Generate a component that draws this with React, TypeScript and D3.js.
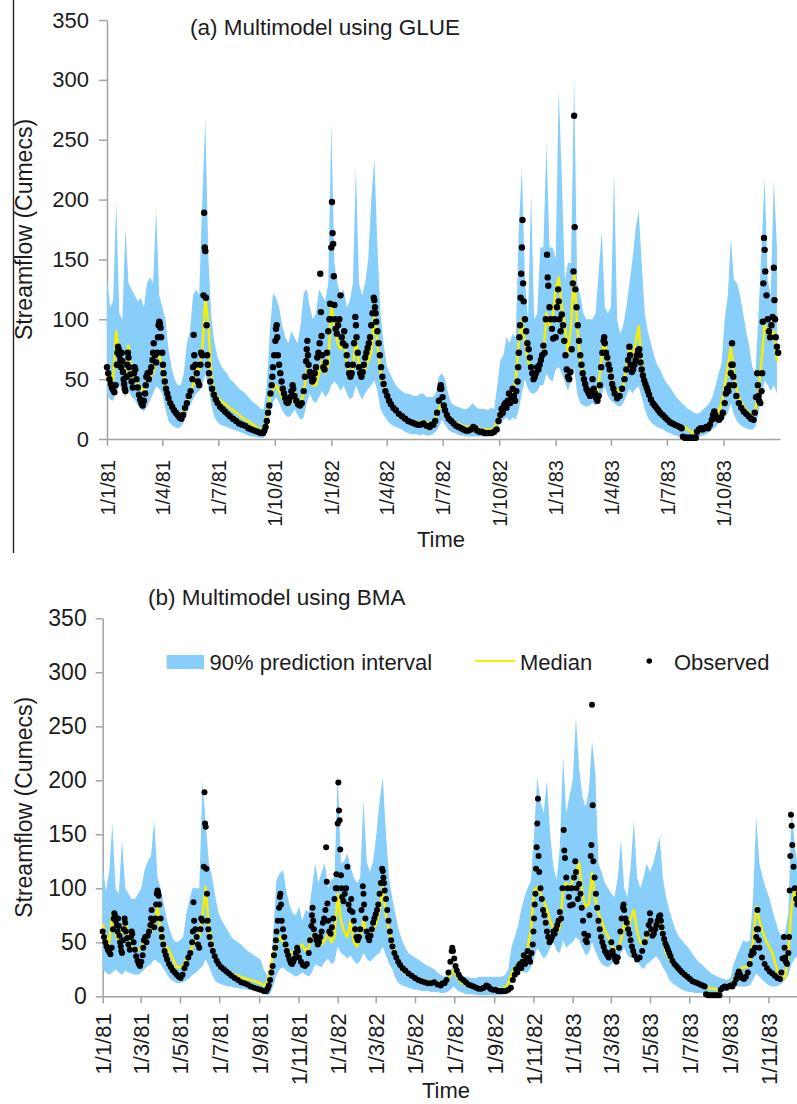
import React, { useRef, useEffect } from 'react';
import * as d3 from 'd3';

// ---- data ----
const START = new Date(Date.UTC(1981, 0, 1));
const END = new Date(Date.UTC(1984, 0, 1));

// bands and medians are sampled every 5 days starting 1/1/81
const STEP = 5;

// (a) GLUE
const upperA = [
  135, 110, 115, 198, 105, 100, 176, 130, 125, 120,
  115, 118, 110, 130, 135, 130, 192, 120, 110, 100,
  75, 60, 50, 45, 45, 55, 80, 90, 120, 125,
  120, 200, 268, 150, 100, 80, 68, 62, 58, 55,
  50, 48, 45, 42, 40, 38, 35, 32, 30, 28,
  25, 25, 45, 90, 122, 118, 110, 95, 85, 80,
  90, 85, 80, 95, 122, 125, 110, 100, 105, 125,
  120, 115, 130, 264, 147, 130, 120, 125, 110, 115,
  130, 227, 130, 120, 130, 150, 200, 235, 160, 105,
  80, 62, 55, 50, 45, 42, 40, 38, 38, 37,
  36, 36, 38, 38, 35, 35, 35, 38, 52, 55,
  50, 38, 30, 28, 27, 26, 25, 25, 27, 30,
  27, 25, 25, 25, 24, 26, 25, 45, 66, 70,
  85, 80, 88, 85, 175, 227, 133, 100, 205, 100,
  105, 160, 160, 247, 160, 160, 150, 292, 219, 133,
  147, 147, 302, 130, 120, 105, 100, 100, 100, 105,
  140, 173, 110, 105, 110, 223, 100, 88, 95, 110,
  130, 150, 175, 191, 147, 105, 90, 80, 70, 62,
  58, 52, 47, 44, 40, 36, 33, 30, 28, 25,
  24, 22, 21, 22, 25, 27, 30, 35, 44, 55,
  63, 100, 119, 168, 133, 130, 120, 105, 90, 77,
  60, 55, 105, 160, 218, 133, 120, 216, 160
];
const medianA = [
  55, 48, 50, 90, 70, 60, 55, 78, 52, 55,
  45, 42, 40, 48, 52, 55, 73, 70, 60, 45,
  35, 30, 26, 22, 20, 24, 30, 38, 45, 60,
  58, 75, 118, 95, 50, 40, 35, 32, 30, 28,
  26, 24, 22, 20, 18, 16, 15, 13, 11, 9,
  8, 9, 20, 35, 42, 45, 40, 35, 30, 28,
  32, 40, 33, 30, 38, 58, 55, 45, 45, 55,
  65, 55, 62, 112, 95, 80, 75, 85, 65, 55,
  58, 85, 62, 52, 58, 65, 72, 105, 80, 55,
  45, 38, 32, 28, 25, 22, 20, 18, 16, 15,
  15, 14, 14, 15, 14, 13, 14, 18, 25, 30,
  25, 20, 17, 15, 13, 12, 11, 10, 10, 11,
  10, 9, 8, 8, 8, 8, 9, 15, 25, 30,
  30, 35, 38, 50, 80, 100, 80, 65, 60, 50,
  55, 62, 70, 105, 95, 100, 125, 135, 110, 95,
  70, 95, 140, 95, 65, 50, 42, 38, 38, 35,
  45, 70, 85, 62, 52, 45, 40, 40, 45, 60,
  75, 68, 80, 94, 65, 50, 40, 33, 28, 25,
  22, 20, 18, 16, 14, 13, 12, 11, 10, 8,
  6, 5, 5, 6, 7, 8, 10, 14, 18, 22,
  30, 45, 60, 77, 55, 40, 32, 28, 24, 22,
  20, 25, 40, 65, 95, 90, 85, 90, 65
];
const lowerA = [
  38, 33, 32, 40, 45, 40, 35, 42, 35, 33,
  28, 25, 23, 27, 32, 38, 44, 42, 38, 25,
  15, 12, 10, 9, 10, 14, 22, 28, 33, 38,
  40, 45, 55, 42, 28, 18, 14, 12, 11, 10,
  9, 8, 7, 6, 5, 4, 3, 2, 2, 1,
  1, 1, 8, 20, 30, 35, 30, 24, 20, 18,
  20, 25, 20, 16, 18, 30, 38, 32, 30, 35,
  40, 35, 38, 45, 48, 45, 40, 45, 38, 33,
  35, 45, 38, 33, 38, 42, 45, 49, 40, 25,
  20, 16, 13, 11, 10, 9, 8, 6, 5, 4,
  4, 4, 3, 4, 3, 3, 4, 6, 10, 16,
  12, 8, 6, 5, 4, 3, 3, 2, 2, 2,
  2, 2, 2, 2, 2, 3, 4, 10, 13, 16,
  18, 15, 18, 16, 25, 38, 50, 42, 38, 38,
  40, 45, 45, 55, 50, 48, 58, 60, 55, 48,
  40, 48, 60, 38, 30, 28, 27, 28, 30, 28,
  30, 38, 44, 36, 32, 30, 28, 27, 30, 36,
  42, 38, 42, 44, 35, 25, 18, 14, 12, 10,
  9, 8, 6, 5, 4, 3, 2, 2, 1, 1,
  1, 1, 1, 2, 3, 4, 6, 8, 10, 13,
  15, 18, 21, 30, 20, 15, 12, 10, 9, 8,
  8, 10, 22, 35, 49, 45, 40, 45, 38
];

// (b) BMA
const upperB = [
  120, 98, 115, 160, 100, 95, 145, 100, 95, 90,
  90, 95, 100, 117, 125, 130, 163, 110, 100, 85,
  70, 60, 52, 50, 52, 55, 77, 90, 101, 100,
  100, 200, 160, 123, 110, 92, 77, 70, 65, 60,
  55, 52, 50, 48, 45, 42, 40, 38, 36, 34,
  25, 20, 20, 60, 108, 114, 117, 98, 85, 77,
  75, 83, 70, 80, 78, 100, 123, 105, 115, 123,
  100, 108, 110, 207, 123, 125, 132, 120, 110, 105,
  110, 182, 125, 115, 125, 150, 180, 203, 150, 108,
  90, 75, 61, 52, 45, 40, 38, 36, 34, 32,
  30, 28, 27, 25, 22, 20, 18, 20, 25, 27,
  24, 20, 18, 18, 17, 17, 17, 18, 18, 18,
  18, 18, 18, 18, 18, 20, 25, 46, 55, 65,
  80, 92, 100, 107, 150, 203, 180, 170, 200, 150,
  120, 108, 138, 222, 170, 185, 200, 258, 211, 185,
  175, 190, 236, 208, 123, 115, 105, 100, 95, 92,
  110, 145, 100, 92, 120, 163, 110, 100, 110, 123,
  115, 123, 135, 148, 110, 92, 80, 70, 61, 55,
  52, 48, 45, 40, 36, 32, 30, 27, 24, 21,
  20, 18, 17, 16, 15, 17, 30, 38, 45, 52,
  50, 52, 90, 166, 123, 110, 100, 92, 80, 70,
  60, 55, 60, 77, 175, 138, 120, 110, 100
];
const medianB = [
  67, 55, 49, 77, 58, 52, 60, 70, 55, 43,
  43, 43, 45, 52, 58, 60, 64, 83, 60, 48,
  45, 40, 33, 27, 27, 28, 35, 40, 47, 55,
  55, 75, 101, 62, 48, 35, 28, 25, 23, 22,
  21, 20, 19, 18, 17, 16, 15, 14, 13, 12,
  10, 12, 25, 40, 50, 55, 50, 45, 42, 40,
  38, 45, 48, 42, 45, 55, 58, 50, 48, 52,
  58, 50, 55, 95, 70, 60, 55, 70, 50, 46,
  55, 70, 58, 60, 62, 67, 80, 101, 75, 61,
  48, 38, 30, 25, 22, 20, 18, 17, 16, 15,
  15, 14, 14, 13, 13, 12, 12, 14, 20, 24,
  18, 14, 12, 10, 9, 9, 8, 8, 8, 8,
  8, 7, 7, 7, 7, 8, 12, 21, 26, 30,
  32, 34, 45, 61, 98, 101, 95, 88, 80, 70,
  62, 58, 64, 98, 105, 100, 107, 115, 123, 95,
  83, 85, 114, 90, 77, 70, 61, 55, 48, 42,
  45, 52, 67, 60, 72, 80, 60, 50, 48, 55,
  60, 61, 64, 70, 55, 40, 35, 30, 27, 24,
  20, 18, 16, 14, 13, 12, 10, 9, 8, 7,
  7, 6, 6, 7, 8, 10, 15, 20, 25, 27,
  27, 30, 50, 83, 70, 60, 52, 46, 40, 30,
  20, 17, 18, 40, 85, 98, 85, 90, 85
];
const lowerB = [
  25, 22, 20, 22, 25, 22, 20, 24, 22, 21,
  20, 20, 22, 25, 28, 30, 34, 32, 30, 25,
  20, 16, 14, 12, 12, 13, 15, 17, 20, 22,
  25, 28, 34, 28, 20, 14, 12, 11, 10, 9,
  9, 8, 8, 7, 7, 6, 6, 6, 5, 5,
  3, 1, 2, 10, 20, 25, 27, 24, 22, 20,
  18, 20, 22, 20, 18, 22, 30, 28, 27, 32,
  35, 30, 32, 46, 40, 38, 35, 38, 33, 30,
  33, 40, 35, 32, 35, 38, 40, 46, 38, 30,
  25, 16, 12, 10, 9, 8, 7, 6, 6, 5,
  5, 5, 4, 4, 4, 3, 3, 4, 6, 9,
  6, 4, 3, 2, 2, 2, 1, 1, 1, 1,
  1, 1, 1, 1, 1, 2, 5, 15, 20, 27,
  25, 22, 22, 27, 35, 45, 40, 35, 38, 45,
  50, 42, 40, 52, 45, 48, 50, 55, 52, 45,
  38, 40, 50, 42, 35, 30, 28, 27, 30, 33,
  35, 40, 45, 38, 35, 37, 33, 28, 25, 30,
  32, 35, 37, 33, 27, 22, 15, 12, 10, 8,
  6, 5, 4, 4, 3, 3, 3, 3, 3, 3,
  3, 4, 4, 5, 6, 7, 8, 9, 9, 9,
  9, 10, 15, 21, 18, 15, 12, 10, 9, 9,
  10, 12, 15, 20, 30, 35, 38, 40, 38
];

// observed streamflow: [days since 1/1/81, cumecs]
const observed: [number, number][] = [
  [0,60],[2,55],[4,50],[6,46],[8,43],[10,41],[12,39],[14,45],[16,62],[17,72],[18,77],[19,75],[20,70],[22,66],[23,60],[24,72],[25,65],[26,56],[27,50],[28,46],[29,42],[30,40],[32,52],[33,62],[34,72],[35,68],[36,60],[38,54],[40,48],[42,43],[44,55],[45,60],[46,58],[48,50],[50,43],[52,37],[54,33],[56,30],[58,28],[60,32],[62,38],[63,45],[64,52],[66,55],[68,50],[70,56],[72,60],[74,66],[75,72],[76,80],[78,70],[80,64],[82,72],[83,85],[84,95],[85,98],[86,96],[87,93],[88,85],[90,72],[91,62],[92,55],[94,48],[96,42],[98,38],
  [100,34],[103,30],[106,27],[109,24],[112,22],[115,20],[118,18],[121,17],[124,20],[127,26],[130,30],[133,36],[136,40],[139,50],[140,60],[141,87],[142,70],[144,62],[146,55],[148,48],[150,45],[152,62],[153,72],[155,70],[157,120],[158,189],[159,160],[160,157],[161,118],[162,95],[163,70],[164,62],[166,55],[168,48],[171,42],[174,37],[177,33],[180,30],[184,27],[188,25],[192,23],[196,21],
  [200,19],[205,17],[210,15],[215,13],[220,12],[225,11],[230,9],[235,8],[240,7],[245,6],[250,5],[254,5],[256,7],[258,10],[260,15],[262,22],[264,28],[266,38],[268,45],[269,52],[270,60],[272,70],[274,82],[275,92],[276,95],[277,85],[278,70],[280,62],[282,55],[284,48],[286,42],[288,38],[290,34],[292,31],[294,30],[296,32],[298,35],
  [300,40],[302,45],[303,42],[305,36],[308,32],[311,29],[314,28],[317,30],[320,40],[322,52],[324,65],[325,75],[326,82],[327,70],[328,62],[330,56],[332,52],[334,48],[336,50],[338,55],[340,60],[342,68],[344,72],[346,80],[347,138],[348,106],[349,86],[350,70],[352,60],[354,58],[356,64],[358,72],[360,90],[362,100],[363,113],[364,100],[365,160],[366,198],[367,172],[368,163],[369,136],[370,112],[371,100],[372,92],[374,88],[376,95],[378,100],[380,120],[382,85],[384,80],[386,90],[388,78],[390,70],[392,62],[394,55],[396,52],[398,55],
  [400,62],[402,80],[404,102],[405,95],[406,85],[408,72],[410,60],[412,55],[414,52],[416,56],[418,62],[420,68],[422,72],[424,76],[426,80],[428,85],[430,95],[432,105],[434,118],[435,116],[436,110],[437,105],[438,98],[440,90],[442,80],[444,70],[446,60],[448,52],[450,46],[453,40],[456,36],[459,32],[462,29],[466,26],[470,24],[475,21],[480,19],[485,17],[490,15],[495,14],
  [500,13],[505,12],[510,12],[515,13],[520,11],[525,10],[528,12],[531,12],[534,15],[537,22],[540,32],[542,42],[543,45],[544,42],[546,35],[548,28],[550,24],[553,20],[556,17],[560,15],[564,13],[568,11],[572,10],[576,9],[580,8],[584,7],[588,7],[592,8],[596,10],[599,9],
  [602,7],[606,6],[610,6],[614,5],[618,5],[622,5],[626,5],[630,6],[634,8],[637,15],[640,20],[642,25],[644,22],[646,28],[648,30],[650,26],[652,32],[654,38],[656,30],[658,35],[660,42],[662,36],[664,32],[666,40],[668,48],[669,60],[670,72],[671,85],[672,95],[673,118],[674,138],[675,160],[676,183],[677,130],[678,115],[680,100],[682,90],[684,80],[686,75],[688,68],[690,60],[692,55],[694,50],[696,52],[698,55],
  [700,60],[702,58],[704,62],[706,66],[708,70],[710,78],[712,72],[714,100],[716,154],[717,135],[718,128],[720,110],[722,100],[724,92],[726,84],[728,100],[730,85],[732,110],[734,125],[735,115],[736,100],[738,90],[740,104],[742,95],[744,82],[746,70],[748,58],[750,52],[752,50],[754,56],[756,75],[758,130],[759,140],[760,270],[761,177],[762,125],[764,110],[766,95],[768,82],[770,70],[772,62],[774,55],[776,50],[778,46],[780,42],[782,40],[784,38],[786,36],[788,40],[790,50],[792,42],[794,38],[796,34],[798,32],
  [800,36],[802,45],[804,60],[806,72],[808,82],[809,85],[810,80],[812,72],[814,68],[816,62],[818,58],[820,52],[822,46],[824,42],[826,38],[830,34],[834,36],[838,42],[842,50],[845,58],[848,66],[850,77],[851,70],[852,62],[854,56],[856,58],[858,62],[860,66],[862,70],[864,74],[866,75],[867,70],[868,64],[870,58],[872,53],[874,49],[876,46],[878,43],[880,40],[882,37],[885,33],[888,30],[891,28],[894,26],[897,24],
  [900,22],[904,20],[908,18],[912,16],[916,14],[920,13],[924,12],[928,11],[932,10],[935,9],[937,2],[940,1],[943,1],[946,1],[949,1],[952,1],[955,1],[958,1],[960,6],[963,8],[966,9],[969,8],[972,9],[975,10],[978,9],[981,12],[984,16],[986,20],[988,23],[990,20],[993,17],[996,16],[999,18],
  [1002,22],[1005,30],[1007,38],[1009,42],[1011,40],[1013,45],[1015,55],[1016,62],[1017,80],[1018,62],[1019,52],[1020,45],[1024,36],[1028,30],[1032,26],[1036,23],[1040,21],[1044,19],[1048,17],[1052,16],[1054,22],[1056,35],[1058,55],[1059,45],[1060,36],[1061,32],[1063,30],[1065,40],[1066,55],[1067,98],[1068,130],[1069,168],[1070,158],[1071,140],[1073,120],[1075,100],[1077,90],[1079,85],[1081,95],[1083,102],[1085,143],[1086,116],[1087,100],[1088,85],[1090,77],[1092,72]
];

const yTicks = [0, 50, 100, 150, 200, 250, 300, 350];

const BLUE = '#87cefa';
const YELLOW = '#f7ef00';
const AXIS = '#a3a3a3';
const INK = '#1c1c1c';
const FONT = '"Liberation Sans", Arial, Helvetica, sans-serif';

const day = (n: number) => d3.utcDay.offset(START, n);
const fmt = (d: Date) => `${d.getUTCDate()}/${d.getUTCMonth() + 1}/${String(d.getUTCFullYear()).slice(2)}`;

function drawPanel(svg: any, p: any) {
  const g = svg.append('g');

  const x = d3.scaleUtc().domain([START, END]).range(p.xRange);
  const y = d3.scaleLinear().domain([0, 350]).range(p.yRange);

  // y axis
  const ya = g.append('g')
    .attr('transform', `translate(${p.xRange[0]},0)`)
    .call(d3.axisLeft(y).tickValues(yTicks).tickSize(p.yTickLen).tickPadding(p.yTickPad).tickSizeOuter(0));
  ya.attr('font-family', FONT).attr('font-size', p.yFont);
  ya.selectAll('path, line').attr('stroke', AXIS).attr('stroke-width', 1.5);
  ya.selectAll('text').attr('fill', INK);

  // x axis
  const xa = g.append('g')
    .attr('transform', `translate(0,${p.yRange[0]})`)
    .call(d3.axisBottom(x)
      .tickValues(d3.utcMonth.every(p.monthStep)!.range(START, END))
      .tickSize(p.xTickLen)
      .tickSizeOuter(0)
      .tickFormat((d: any) => fmt(d)));
  xa.attr('font-family', FONT).attr('font-size', p.xFont);
  xa.selectAll('path, line').attr('stroke', AXIS).attr('stroke-width', 1.5);
  xa.selectAll('text')
    .attr('fill', INK)
    .attr('y', 0)
    .attr('x', -p.xLabelOffset)
    .attr('dy', '0.36em')
    .attr('transform', 'rotate(-90)')
    .style('text-anchor', 'end');

  // band, median, observed
  const rows = p.upper.map((u: number, i: number) => ({
    date: day(i * STEP), hi: u, md: p.median[i], lo: p.lower[i]
  }));

  g.append('path')
    .datum(rows)
    .attr('fill', BLUE)
    .attr('d', d3.area<any>().x(d => x(d.date)).y0(d => y(d.lo)).y1(d => y(d.hi)));

  g.append('path')
    .datum(rows)
    .attr('fill', 'none')
    .attr('stroke', YELLOW)
    .attr('stroke-width', 2.5)
    .attr('stroke-linejoin', 'round')
    .attr('d', d3.line<any>().x(d => x(d.date)).y(d => y(d.md)));

  g.append('g')
    .selectAll('circle')
    .data(observed)
    .join('circle')
    .attr('cx', (d: [number, number]) => x(day(d[0])))
    .attr('cy', (d: [number, number]) => y(d[1]))
    .attr('r', p.dotR)
    .attr('fill', '#000');

  // titles
  g.append('text')
    .attr('x', p.titleX)
    .attr('y', p.titleY)
    .attr('font-family', FONT)
    .attr('font-size', 22.5)
    .attr('fill', INK)
    .text(p.title);

  g.append('text')
    .attr('x', p.timeX)
    .attr('y', p.timeY)
    .attr('text-anchor', 'middle')
    .attr('font-family', FONT)
    .attr('font-size', 22)
    .attr('fill', INK)
    .text('Time');

  g.append('text')
    .attr('transform', `translate(${p.yTitleX},${(p.yRange[0] + p.yRange[1]) / 2}) rotate(-90)`)
    .attr('text-anchor', 'middle')
    .attr('font-family', FONT)
    .attr('font-size', 23)
    .attr('fill', INK)
    .text('Streamflow (Cumecs)');
}

export default function App() {
  const svgRef = useRef<SVGSVGElement>(null);

  useEffect(() => {
    const svg = d3.select(svgRef.current);
    svg.selectAll('*').remove();

    // left rule beside panel (a)
    svg.append('line')
      .attr('x1', 13.5).attr('x2', 13.5)
      .attr('y1', 0).attr('y2', 553)
      .attr('stroke', '#222').attr('stroke-width', 1.4);

    drawPanel(svg, {
      title: '(a) Multimodel using GLUE', titleX: 190, titleY: 35,
      xRange: [107, 780], yRange: [439, 20],
      monthStep: 3, xTickLen: 7, xLabelOffset: 21, xFont: 20,
      yTickLen: 8, yTickPad: 10, yFont: 22,
      upper: upperA, median: medianA, lower: lowerA,
      dotR: 3.2, timeX: 441, timeY: 547, yTitleX: 32
    });

    drawPanel(svg, {
      title: '(b) Multimodel using BMA', titleX: 148, titleY: 605,
      xRange: [102.7, 807.7], yRange: [996.3, 618.3],
      monthStep: 2, xTickLen: 7, xLabelOffset: 17, xFont: 22,
      yTickLen: 7, yTickPad: 9, yFont: 23,
      upper: upperB, median: medianB, lower: lowerB,
      dotR: 3, timeX: 446, timeY: 1098, yTitleX: 31.5
    });

    // legend for panel (b)
    const lg = svg.append('g').attr('font-family', FONT).attr('font-size', 22).attr('fill', INK);
    lg.append('rect').attr('x', 166.7).attr('y', 655).attr('width', 37.3).attr('height', 14).attr('fill', BLUE);
    lg.append('text').attr('x', 209.5).attr('y', 670).text('90% prediction interval');
    lg.append('line').attr('x1', 475).attr('x2', 515).attr('y1', 661).attr('y2', 661)
      .attr('stroke', YELLOW).attr('stroke-width', 2);
    lg.append('text').attr('x', 520).attr('y', 670).text('Median');
    lg.append('circle').attr('cx', 649.3).attr('cy', 661).attr('r', 2.8).attr('fill', '#000');
    lg.append('text').attr('x', 674).attr('y', 670).text('Observed');
  }, []);

  return (
    <svg
      ref={svgRef}
      width={797}
      height={1104}
      style={{ position: 'absolute', left: 0, top: 0, display: 'block', background: '#fff' }}
    />
  );
}
